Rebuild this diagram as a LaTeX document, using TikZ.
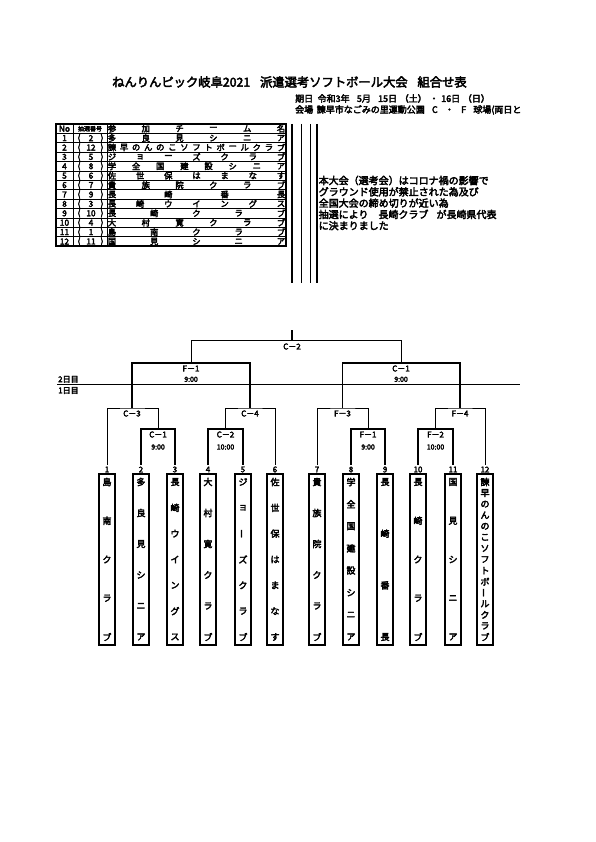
\documentclass[tikz,border=0pt]{standalone}
\usepackage{fontspec}
\usepackage{graphicx}
\setmainfont{Noto Sans CJK JP}[FakeBold=3.5]
\newcommand{\vb}{\rotatebox{90}{ー}}
\tikzset{
  tline/.style={line width=0.8pt},
  bline/.style={line width=1.6pt},
  tc/.style={inner sep=0pt, font=\fontsize{8.3}{8}\selectfont},
  nc/.style={inner sep=0pt, font=\fontsize{9}{9}\selectfont},
  lab/.style={inner sep=0pt, font=\fontsize{8}{8}\selectfont},
  tim/.style={inner sep=0pt, font=\fontsize{7}{7}\selectfont},
  namebox/.style={draw, line width=1.6pt, minimum width=15.5pt, minimum height=171pt, inner sep=0pt},
}
\newcommand{\distH}[3]{\foreach \c [count=\i] in {#3} {\node[tc] at ({112+(\i-1)*169/(#2-1)},#1) {\c};}}
\newcommand{\distV}[3]{\foreach \c [count=\i] in {#3} {\node[nc] at (#1,{482+(\i-1)*155/(#2-1)}) {\c};}}
\begin{document}
\begin{tikzpicture}[x=1pt,y=-1pt]
\useasboundingbox (0,0) rectangle (595,842);
% title
\node[anchor=west, inner sep=0pt, font=\fontsize{12.3}{14}\selectfont] (title) at (112,82) {ねんりんピック岐阜2021\hspace{0.8em}派遣選考ソフトボール大会\hspace{0.8em}組合せ表};
\node[anchor=west, inner sep=0pt, font=\fontsize{9}{9}\selectfont] (date) at (295,98.5) {期日\hspace{0.5em}令和3年\hspace{0.8em}5月\hspace{0.8em}15日\hspace{0.3em}（土）\hspace{0.3em}・\hspace{0.3em}16日\hspace{0.3em}（日）};
\node[anchor=west, inner sep=0pt, font=\fontsize{9}{9}\selectfont] (venue) at (295,110) {会場\hspace{0.4em}諫早市なごみの里運動公園\hspace{0.8em}C\hspace{0.8em}・\hspace{0.8em}F\hspace{0.8em}球場(両日と};
% table
\draw[bline] (56,124) rectangle (286,246.2);
\draw[tline] (73,124) -- (73,246.2);
\draw[tline] (107,124) -- (107,246.2);
\foreach \r in {1,...,12} {\draw[tline] (56,{124+9.4*\r}) -- (286,{124+9.4*\r});}
\node[tc] (hno) at (64.5,128.7) {No};
\node[inner sep=0pt, font=\fontsize{6}{6}\selectfont] (hlot) at (90,128.7) {抽選番号};
\distH{128.7}{6}{参,加,チ,ー,ム,名}
\foreach \r/\n/\l in {1/1/2,2/2/12,3/3/5,4/4/8,5/5/6,6/6/7,7/7/9,8/8/3,9/9/10,10/10/4,11/11/1,12/12/11} {
  \node[tc] (no\r) at (64.5,{124+9.4*(\r+0.5)}) {\n};
  \node[tc] at (79,{124+9.4*(\r+0.5)}) {(};
  \node[tc] (lot\r) at (91,{124+9.4*(\r+0.5)}) {\l};
  \node[tc] at (102,{124+9.4*(\r+0.5)}) {)};
}
\distH{138.1}{6}{多,良,見,シ,ニ,ア}
\distH{147.5}{15}{諫,早,の,ん,の,こ,ソ,フ,ト,ボ,ー,ル,ク,ラ,ブ}
\distH{156.9}{7}{ジ,ョ,ー,ズ,ク,ラ,ブ}
\distH{166.3}{8}{学,全,国,建,設,シ,ニ,ア}
\distH{175.7}{7}{佐,世,保,は,ま,な,す}
\distH{185.1}{6}{貴,族,院,ク,ラ,ブ}
\distH{194.5}{4}{長,崎,番,長}
\distH{203.9}{7}{長,崎,ウ,イ,ン,グ,ス}
\distH{213.3}{5}{長,崎,ク,ラ,ブ}
\distH{222.7}{6}{大,村,寛,ク,ラ,ブ}
\distH{232.1}{5}{島,南,ク,ラ,ブ}
\distH{241.5}{5}{国,見,シ,ニ,ア}
% side lines
\draw[line width=1.2pt] (292,124) -- (292,283);
\draw[tline] (301,124) -- (301,283);
\draw[tline] (310,124) -- (310,283);
\draw[line width=1.2pt] (317,124) -- (317,283);
% note
\foreach \t [count=\i] in {本大会（選考会）はコロナ禍の影響で,グラウンド使用が禁止された為及び,全国大会の締め切りが近い為,抽選により\hspace{1em}長崎クラブ\hspace{0.8em}が長崎県代表,に決まりました} {
  \node[anchor=west, inner sep=0pt, font=\fontsize{10}{10}\selectfont] (note\i) at (318.5,{180.5+(\i-1)*11.3}) {\t};
}
% players
\foreach \k/\x in {1/107,2/141,3/175,4/208,5/243,6/275,7/317,8/351,9/385,10/418,11/453,12/485} {
  \coordinate (t\k) at (\x,465);
  \node[lab] (p\k) at (\x,469.5) {\k};
  \node[namebox] (b\k) at (\x,559.5) {};
}
\distV{107}{5}{島,南,ク,ラ,ブ}
\distV{141}{6}{多,良,見,シ,ニ,ア}
\distV{175}{7}{長,崎,ウ,イ,ン,グ,ス}
\distV{208}{6}{大,村,寛,ク,ラ,ブ}
\distV{243}{7}{ジ,ョ,\vb,ズ,ク,ラ,ブ}
\distV{275}{7}{佐,世,保,は,ま,な,す}
\distV{317}{6}{貴,族,院,ク,ラ,ブ}
\distV{351}{8}{学,全,国,建,設,シ,ニ,ア}
\distV{385}{4}{長,崎,番,長}
\distV{418}{5}{長,崎,ク,ラ,ブ}
\distV{453}{5}{国,見,シ,ニ,ア}
\distV{485}{15}{諫,早,の,ん,の,こ,ソ,フ,ト,ボ,\vb,ル,ク,ラ,ブ}
% first round boxes
\coordinate (m1) at (158,429);
\coordinate (m2) at (225.5,429);
\coordinate (m3) at (368,429);
\coordinate (m4) at (435.5,429);
\draw[bline] (t2) |- (m1) -| (t3);
\draw[bline] (t4) |- (m2) -| (t5);
\draw[bline] (t8) |- (m3) -| (t9);
\draw[bline] (t10) |- (m4) -| (t11);
\node[lab] (lc1) at (158,434.5) {C－1};
\node[tim] (tc1) at (158,447) {9:00};
\node[lab] (lc2) at (225.5,434.5) {C－2};
\node[tim] (tc2) at (225.5,447) {10:00};
\node[lab] (lf1) at (368,434.5) {F－1};
\node[tim] (tf1) at (368,447) {9:00};
\node[lab] (lf2) at (435.5,434.5) {F－2};
\node[tim] (tf2) at (435.5,447) {10:00};
% second round
\coordinate (s1) at (132,408);
\coordinate (s2) at (250,408);
\coordinate (s3) at (342.5,408);
\coordinate (s4) at (460,408);
\draw[tline] (t1) |- (s1) -| (m1);
\draw[tline] (m2) |- (s2) -| (t6);
\draw[tline] (t7) |- (s3) -| (m3);
\draw[tline] (m4) |- (s4) -| (t12);
\node[lab] (lc3) at (132,413.5) {C－3};
\node[lab] (lc4) at (250,413.5) {C－4};
\node[lab] (lf3) at (342.5,413.5) {F－3};
\node[lab] (lf4) at (460,413.5) {F－4};
% semifinals
\coordinate (f1) at (191,363);
\coordinate (f2) at (401,363);
\draw[bline] (s1) |- (f1) -| (s2);
\draw[bline] (s3) |- (f2) -| (s4);
\node[lab] (lsf1) at (191,368.5) {F－1};
\node[tim] (tsf1) at (191,379.3) {9:00};
\node[lab] (lsc1) at (401,368.5) {C－1};
\node[tim] (tsc1) at (401,379.3) {9:00};
% final
\coordinate (fin) at (292,340.7);
\coordinate (top) at (292,330);
\draw[tline] (f1) |- (fin) -| (f2);
\draw[line width=1.2pt] (fin) -- (top);
\node[lab] (lfin) at (292,346.5) {C－2};
% day line
\coordinate (dl) at (57,384.5);
\coordinate (dr) at (520,384.5);
\draw[line width=1.4pt] (dl) -- (dr);
\node[anchor=west, inner sep=0pt, font=\fontsize{8}{8}\selectfont] (d2) at (58,379.3) {2日目};
\node[anchor=west, inner sep=0pt, font=\fontsize{8}{8}\selectfont] (d1) at (58,390.5) {1日目};
\end{tikzpicture}
\end{document}
